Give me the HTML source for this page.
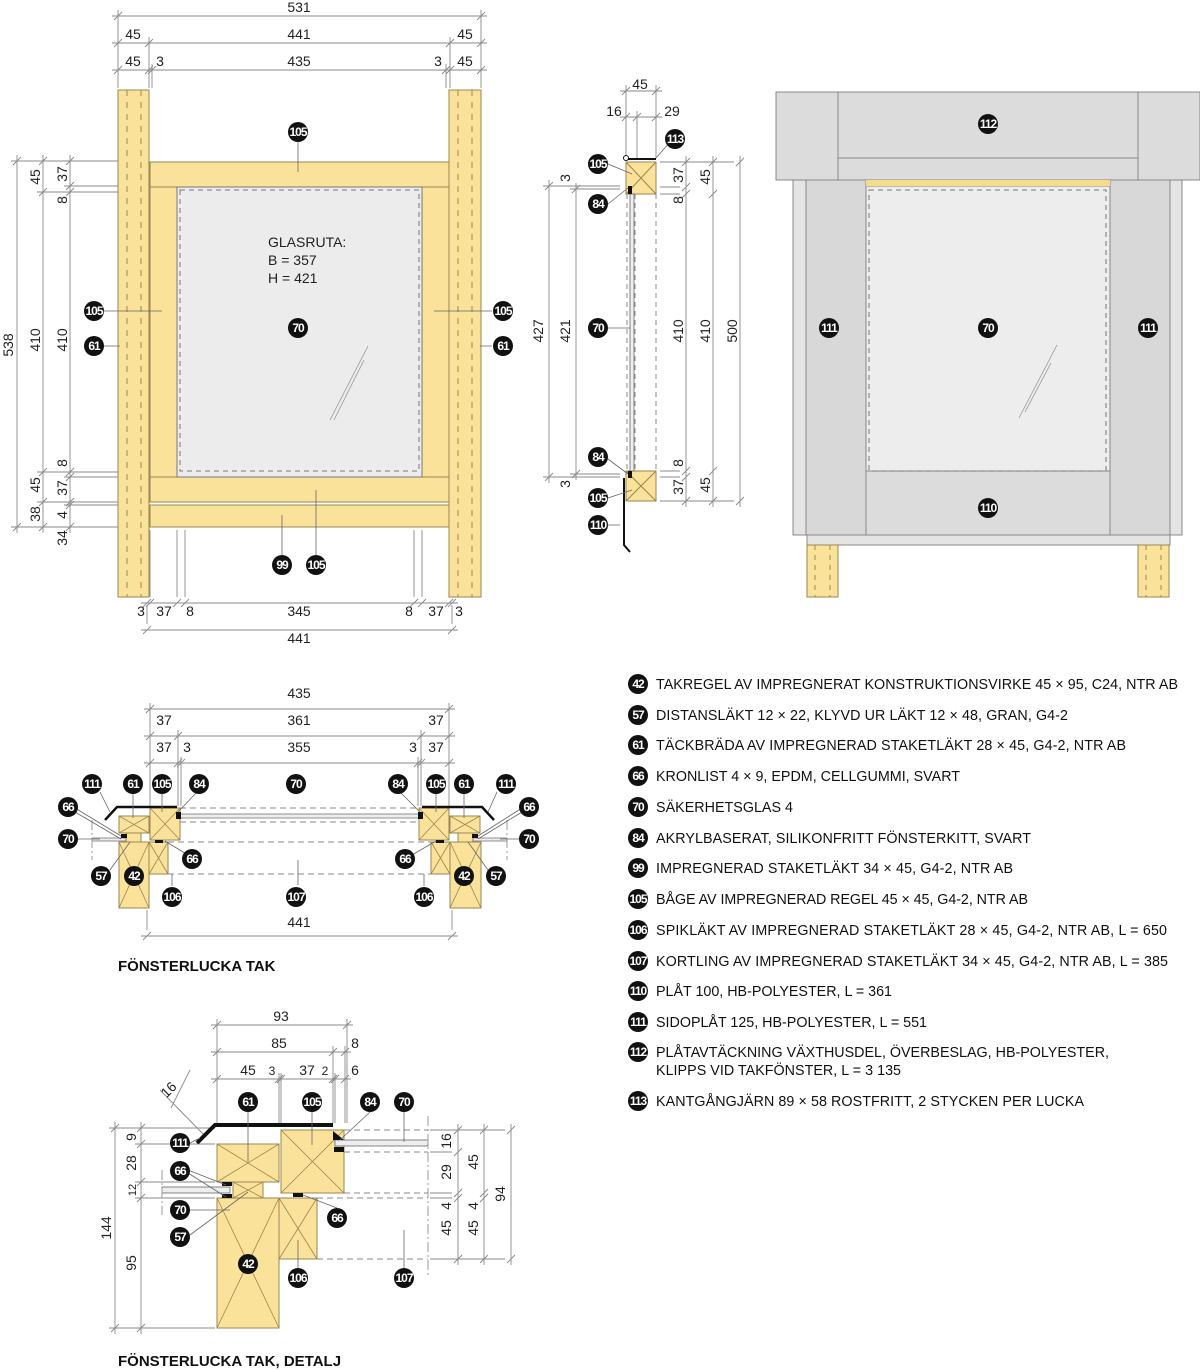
<!DOCTYPE html>
<html><head><meta charset="utf-8">
<style>
html,body{margin:0;padding:0;background:#fff;}
svg{display:block;font-family:"Liberation Sans",sans-serif;}
.d{font-size:14px;fill:#222;}
.b circle{fill:#111;}
.b text{fill:#fff;font-size:12px;font-weight:bold;text-anchor:middle;letter-spacing:-1px;}
.lg{font-size:14.3px;fill:#111;}
.t{font-size:15px;font-weight:bold;fill:#111;}
</style></head><body>
<svg id="s" width="1200" height="1371" viewBox="0 0 1200 1371" xmlns="http://www.w3.org/2000/svg">
<g id="shapes"></g>

<g stroke="#9a8650" stroke-width="1">
<rect x="118" y="90" width="31" height="507" fill="#fbe29b"/>
<rect x="449" y="90" width="32" height="507" fill="#fbe29b"/>
<rect x="150" y="162" width="299" height="340" fill="#fbe29b"/>
<rect x="150" y="505" width="299" height="22" fill="#fbe29b"/>
<line x1="150" y1="187" x2="449" y2="187"/>
<line x1="150" y1="477" x2="449" y2="477"/>
<rect x="177" y="187" width="245" height="290" fill="#ececec" stroke="#777"/>
</g>
<rect x="180" y="190" width="239" height="281" fill="none" stroke="#777" stroke-dasharray="5,4"/>
<g stroke="#9a8650" stroke-dasharray="6,6">
<line x1="127" y1="90" x2="127" y2="597"/><line x1="141" y1="90" x2="141" y2="597"/>
<line x1="458" y1="90" x2="458" y2="597"/><line x1="472" y1="90" x2="472" y2="597"/>
</g>
<g stroke="#999" stroke-width="0.8"><line x1="330" y1="420" x2="368" y2="346"/><line x1="334" y1="420" x2="364" y2="360"/></g>
<text class="d" x="268" y="247">GLASRUTA:</text>
<text class="d" x="268" y="265">B = 357</text>
<text class="d" x="268" y="283">H = 421</text>

<g stroke="#9a8650">
<rect x="626" y="162" width="30" height="32" fill="#fbe29b"/>
<rect x="626" y="471" width="30" height="30" fill="#fbe29b"/>
<path d="M626 162L656 194M656 162L626 194M626 471L656 501M656 471L626 501" fill="none"/>
</g>
<g stroke="#888" stroke-dasharray="5,4"><line x1="627" y1="194" x2="627" y2="471"/><line x1="635" y1="194" x2="635" y2="471"/><line x1="656" y1="194" x2="656" y2="471"/></g>
<rect x="630" y="194" width="4" height="277" fill="#eee" stroke="#666" stroke-width="0.8"/>
<path d="M626 159H656" stroke="#111" stroke-width="2"/>
<circle cx="626" cy="158" r="2.5" fill="#fff" stroke="#111"/>
<path d="M628 186h4v8h-4zM628 471h4v7h-4z" fill="#111"/>
<path d="M624 478V545L630 552" fill="none" stroke="#111" stroke-width="2"/>

<g stroke="#888" stroke-width="1">
<rect x="776" y="92" width="424" height="88" fill="#dcdcdc"/>
<line x1="838" y1="92" x2="838" y2="180"/><line x1="1138" y1="92" x2="1138" y2="180"/>
<line x1="838" y1="158" x2="1138" y2="158"/>
<rect x="793" y="180" width="389" height="355" fill="#e4e4e4"/>
<rect x="806" y="180" width="60" height="355" fill="#d8d8d8"/>
<rect x="1110" y="180" width="60" height="355" fill="#d8d8d8"/>
<rect x="866" y="471" width="244" height="64" fill="#dcdcdc"/>
<rect x="866" y="186" width="244" height="285" fill="#ededed"/>
<rect x="807" y="535" width="363" height="10" fill="#e4e4e4"/>
<rect x="807" y="545" width="31" height="52" fill="#fbe29b" stroke="#9a8650"/>
<rect x="1138" y="545" width="31" height="52" fill="#fbe29b" stroke="#9a8650"/>
</g>
<rect x="866" y="180" width="244" height="6" fill="#f5dc8a"/>
<rect x="869" y="190" width="237" height="281" fill="none" stroke="#777" stroke-dasharray="5,4"/>
<g stroke="#9a8650" stroke-dasharray="5,5"><line x1="815" y1="545" x2="815" y2="597"/><line x1="830" y1="545" x2="830" y2="597"/><line x1="1146" y1="545" x2="1146" y2="597"/><line x1="1161" y1="545" x2="1161" y2="597"/></g>
<g stroke="#999" stroke-width="0.8"><line x1="1019" y1="418" x2="1057" y2="345"/><line x1="1025" y1="412" x2="1051" y2="363"/></g>

<g stroke="#9a8650" fill="#fbe29b">
<rect x="119" y="816" width="30" height="17"/><rect x="126" y="833" width="15" height="9"/>
<rect x="119" y="842" width="30" height="66"/><rect x="150" y="808" width="30" height="32"/>
<rect x="149" y="842" width="19" height="32"/>
<rect x="450" y="816" width="30" height="17"/><rect x="458" y="833" width="15" height="9"/>
<rect x="450" y="842" width="31" height="66"/><rect x="419" y="808" width="30" height="32"/>
<rect x="431" y="842" width="19" height="32"/>
</g>
<g stroke="#9a8650" fill="none" stroke-width="0.8">
<path d="M119 816L149 833M149 816L119 833M119 842L149 908M149 842L119 908M150 808L180 840M180 808L150 840M149 842L168 874M168 842L149 874"/>
<path d="M450 816L480 833M480 816L450 833M450 842L481 908M481 842L450 908M419 808L449 840M449 808L419 840M431 842L450 874M450 842L431 874"/>
</g>
<rect x="180" y="814" width="239" height="4" fill="#eee" stroke="#666" stroke-width="0.7"/>
<rect x="92" y="838" width="34" height="3" fill="#eee" stroke="#666" stroke-width="0.7"/>
<rect x="473" y="838" width="34" height="3" fill="#eee" stroke="#666" stroke-width="0.7"/>
<path d="M105 820L117 807H177M494 820L482 807H422" fill="none" stroke="#111" stroke-width="2.5"/>
<g fill="#111"><rect x="176" y="812" width="5" height="7"/><rect x="418" y="812" width="5" height="7"/><rect x="121" y="834" width="6" height="4"/><rect x="472" y="834" width="6" height="4"/><rect x="155" y="840" width="8" height="3"/><rect x="436" y="840" width="8" height="3"/></g>
<g stroke="#888" stroke-dasharray="6,4" fill="none"><line x1="180" y1="808" x2="419" y2="808"/><line x1="180" y1="822" x2="419" y2="822"/><line x1="168" y1="842" x2="431" y2="842"/><line x1="168" y1="874" x2="431" y2="874"/></g>
<g stroke="#999" stroke-dasharray="10,3,2,3"><line x1="92" y1="820" x2="92" y2="860"/><line x1="507" y1="820" x2="507" y2="860"/></g>
<text class="t" x="118" y="971">FÖNSTERLUCKA TAK</text>

<g stroke="#9a8650" fill="#fbe29b">
<rect x="217" y="1144" width="62" height="38"/><rect x="233" y="1182" width="30" height="16"/>
<rect x="217" y="1198" width="62" height="130"/><rect x="281" y="1130" width="63" height="63"/>
<rect x="279" y="1198" width="38" height="61"/>
</g>
<g stroke="#9a8650" fill="none" stroke-width="0.8">
<path d="M217 1144L279 1182M279 1144L217 1182M233 1182L263 1198M263 1182L233 1198M217 1198L279 1328M279 1198L217 1328M281 1130L344 1193M344 1130L281 1193M279 1198L317 1259M317 1198L279 1259"/>
</g>
<rect x="335" y="1140" width="93" height="6" fill="#eee" stroke="#666" stroke-width="0.8"/>
<rect x="162" y="1187" width="68" height="6" fill="#eee" stroke="#666" stroke-width="0.8"/>
<path d="M197 1143L215 1125H333" fill="none" stroke="#111" stroke-width="4"/>
<g fill="#111"><path d="M333 1131L344 1140H333Z"/><rect x="334" y="1147" width="10" height="5"/><rect x="222" y="1182" width="10" height="4"/><rect x="222" y="1194" width="10" height="4"/><rect x="293" y="1193" width="10" height="4"/></g>
<g stroke="#888" stroke-dasharray="6,4" fill="none"><line x1="344" y1="1130" x2="428" y2="1130"/><line x1="344" y1="1152" x2="428" y2="1152"/><line x1="344" y1="1193" x2="428" y2="1193"/><line x1="317" y1="1198" x2="428" y2="1198"/><line x1="317" y1="1259" x2="428" y2="1259"/></g>
<g stroke="#999" stroke-dasharray="10,3,2,3"><line x1="428" y1="1116" x2="428" y2="1275"/><line x1="162" y1="1170" x2="162" y2="1215"/></g>
<text class="t" x="118" y="1366">FÖNSTERLUCKA TAK, DETALJ</text>

<g class="d" text-anchor="middle">
<text x="299" y="12">531</text>
<text x="299" y="39">441</text><text x="133" y="39">45</text><text x="465" y="39">45</text>
<text x="299" y="66">435</text><text x="133" y="66">45</text><text x="160" y="66">3</text><text x="438" y="66">3</text><text x="465" y="66">45</text>
<text x="141" y="616">3</text><text x="164" y="616">37</text><text x="190" y="616">8</text><text x="299" y="616">345</text><text x="409" y="616">8</text><text x="436" y="616">37</text><text x="459" y="616">3</text>
<text x="299" y="643">441</text>
<text x="640" y="89">45</text><text x="614" y="116">16</text><text x="672" y="116">29</text>
<text x="299" y="698">435</text>
<text x="164" y="725">37</text><text x="299" y="725">361</text><text x="436" y="725">37</text>
<text x="164" y="752">37</text><text x="187" y="752">3</text><text x="299" y="752">355</text><text x="413" y="752">3</text><text x="436" y="752">37</text>
<text x="299" y="927">441</text>
<text x="281" y="1021">93</text><text x="279" y="1048">85</text><text x="355" y="1048">8</text>
<text x="248" y="1075">45</text><text x="272" y="1075" style="font-size:12px">3</text><text x="307" y="1075">37</text><text x="325" y="1075" style="font-size:12px">2</text><text x="355" y="1075">6</text>
</g>
<g class="d" text-anchor="middle">
<text transform="translate(13,345) rotate(-90)">538</text>
<text transform="translate(40,177) rotate(-90)">45</text><text transform="translate(40,340) rotate(-90)">410</text><text transform="translate(40,485) rotate(-90)">45</text><text transform="translate(40,514) rotate(-90)">38</text>
<text transform="translate(67,174) rotate(-90)">37</text><text transform="translate(67,200) rotate(-90)">8</text><text transform="translate(67,340) rotate(-90)">410</text><text transform="translate(67,463) rotate(-90)">8</text><text transform="translate(67,488) rotate(-90)">37</text><text transform="translate(67,515) rotate(-90)">4</text><text transform="translate(67,538) rotate(-90)">34</text>
<text transform="translate(543,331) rotate(-90)">427</text><text transform="translate(570,331) rotate(-90)">421</text><text transform="translate(570,178) rotate(-90)">3</text><text transform="translate(570,484) rotate(-90)">3</text>
<text transform="translate(683,175) rotate(-90)">37</text><text transform="translate(683,200) rotate(-90)">8</text><text transform="translate(683,331) rotate(-90)">410</text><text transform="translate(683,463) rotate(-90)">8</text><text transform="translate(683,487) rotate(-90)">37</text>
<text transform="translate(710,177) rotate(-90)">45</text><text transform="translate(710,331) rotate(-90)">410</text><text transform="translate(710,485) rotate(-90)">45</text>
<text transform="translate(737,331) rotate(-90)">500</text>
<text transform="translate(111,1228) rotate(-90)">144</text>
<text transform="translate(136,1137) rotate(-90)">9</text><text transform="translate(136,1163) rotate(-90)">28</text><text transform="translate(136,1190) rotate(-90)" style="font-size:11px">12</text><text transform="translate(136,1263) rotate(-90)">95</text>
<text transform="translate(451,1141) rotate(-90)">16</text><text transform="translate(451,1172) rotate(-90)">29</text><text transform="translate(451,1206) rotate(-90)">4</text><text transform="translate(451,1228) rotate(-90)">45</text>
<text transform="translate(478,1162) rotate(-90)">45</text><text transform="translate(478,1206) rotate(-90)">4</text><text transform="translate(478,1228) rotate(-90)">45</text>
<text transform="translate(505,1194) rotate(-90)">94</text>
<text transform="translate(172,1093) rotate(-45)">16</text>
</g>

<g stroke="#666" stroke-width="0.8" fill="none">
<path d="M298 142V172M104 311H162M492 311H434M104 346H120M492 346H480M282 555V515M316 555V490"/>
<path d="M608 164L632 174M608 204L628 188M608 459L628 474M608 498L632 490M608 525H620M608 328H630M670 142L656 158"/>
<path d="M100 792L110 812M133 794V818M162 794V812M197 792L178 812M400 792L420 812M436 794V812M464 794V818M497 792L488 812"/>
<path d="M75 808L121 836M75 812L121 839M78 839H100M110 870L130 842M188 855L165 841M522 808L478 836M522 812L478 839M520 839H500M488 870L468 842M412 855L436 841M298 885V860M172 886V874M424 886V874"/>
<path d="M190 1143L200 1138M188 1170L226 1185M188 1173L226 1197M190 1210H230M190 1235L248 1192M248 1112V1162M312 1112V1145M370 1112L340 1140M404 1112V1142M337 1208L303 1195M298 1268V1240M404 1268V1230"/>
</g>

<g class="b">
<g transform="translate(298,132)"><circle r="10"/><text y="4">105</text></g>
<g transform="translate(94,311)"><circle r="10"/><text y="4">105</text></g>
<g transform="translate(503,311)"><circle r="10"/><text y="4">105</text></g>
<g transform="translate(94,346)"><circle r="10"/><text y="4">61</text></g>
<g transform="translate(503,346)"><circle r="10"/><text y="4">61</text></g>
<g transform="translate(298,328)"><circle r="10"/><text y="4">70</text></g>
<g transform="translate(282,565)"><circle r="10"/><text y="4">99</text></g>
<g transform="translate(316,565)"><circle r="10"/><text y="4">105</text></g>
<g transform="translate(598,164)"><circle r="10"/><text y="4">105</text></g>
<g transform="translate(598,204)"><circle r="10"/><text y="4">84</text></g>
<g transform="translate(675,139)"><circle r="10"/><text y="4">113</text></g>
<g transform="translate(598,328)"><circle r="10"/><text y="4">70</text></g>
<g transform="translate(598,457)"><circle r="10"/><text y="4">84</text></g>
<g transform="translate(598,498)"><circle r="10"/><text y="4">105</text></g>
<g transform="translate(598,525)"><circle r="10"/><text y="4">110</text></g>
<g transform="translate(988,124)"><circle r="10"/><text y="4">112</text></g>
<g transform="translate(829,328)"><circle r="10"/><text y="4">111</text></g>
<g transform="translate(988,328)"><circle r="10"/><text y="4">70</text></g>
<g transform="translate(1148,328)"><circle r="10"/><text y="4">111</text></g>
<g transform="translate(988,508)"><circle r="10"/><text y="4">110</text></g>
<g transform="translate(92,784)"><circle r="10"/><text y="4">111</text></g>
<g transform="translate(133,784)"><circle r="10"/><text y="4">61</text></g>
<g transform="translate(162,784)"><circle r="10"/><text y="4">105</text></g>
<g transform="translate(199,784)"><circle r="10"/><text y="4">84</text></g>
<g transform="translate(296,784)"><circle r="10"/><text y="4">70</text></g>
<g transform="translate(398,784)"><circle r="10"/><text y="4">84</text></g>
<g transform="translate(436,784)"><circle r="10"/><text y="4">105</text></g>
<g transform="translate(464,784)"><circle r="10"/><text y="4">61</text></g>
<g transform="translate(506,784)"><circle r="10"/><text y="4">111</text></g>
<g transform="translate(68,807)"><circle r="10"/><text y="4">66</text></g>
<g transform="translate(529,807)"><circle r="10"/><text y="4">66</text></g>
<g transform="translate(68,839)"><circle r="10"/><text y="4">70</text></g>
<g transform="translate(529,839)"><circle r="10"/><text y="4">70</text></g>
<g transform="translate(192,859)"><circle r="10"/><text y="4">66</text></g>
<g transform="translate(405,859)"><circle r="10"/><text y="4">66</text></g>
<g transform="translate(101,876)"><circle r="10"/><text y="4">57</text></g>
<g transform="translate(134,876)"><circle r="10"/><text y="4">42</text></g>
<g transform="translate(464,876)"><circle r="10"/><text y="4">42</text></g>
<g transform="translate(496,876)"><circle r="10"/><text y="4">57</text></g>
<g transform="translate(172,897)"><circle r="10"/><text y="4">106</text></g>
<g transform="translate(296,897)"><circle r="10"/><text y="4">107</text></g>
<g transform="translate(424,897)"><circle r="10"/><text y="4">106</text></g>
<g transform="translate(248,1102)"><circle r="10"/><text y="4">61</text></g>
<g transform="translate(312,1102)"><circle r="10"/><text y="4">105</text></g>
<g transform="translate(370,1102)"><circle r="10"/><text y="4">84</text></g>
<g transform="translate(404,1102)"><circle r="10"/><text y="4">70</text></g>
<g transform="translate(180,1143)"><circle r="10"/><text y="4">111</text></g>
<g transform="translate(180,1171)"><circle r="10"/><text y="4">66</text></g>
<g transform="translate(180,1210)"><circle r="10"/><text y="4">70</text></g>
<g transform="translate(180,1237)"><circle r="10"/><text y="4">57</text></g>
<g transform="translate(337,1218)"><circle r="10"/><text y="4">66</text></g>
<g transform="translate(248,1264)"><circle r="10"/><text y="4">42</text></g>
<g transform="translate(298,1278)"><circle r="10"/><text y="4">106</text></g>
<g transform="translate(404,1278)"><circle r="10"/><text y="4">107</text></g>
</g>

<g class="b">
<g transform="translate(638,684)"><circle r="10"/><text y="4">42</text></g>
<g transform="translate(638,715)"><circle r="10"/><text y="4">57</text></g>
<g transform="translate(638,745)"><circle r="10"/><text y="4">61</text></g>
<g transform="translate(638,776)"><circle r="10"/><text y="4">66</text></g>
<g transform="translate(638,807)"><circle r="10"/><text y="4">70</text></g>
<g transform="translate(638,838)"><circle r="10"/><text y="4">84</text></g>
<g transform="translate(638,868)"><circle r="10"/><text y="4">99</text></g>
<g transform="translate(638,899)"><circle r="10"/><text y="4">105</text></g>
<g transform="translate(638,930)"><circle r="10"/><text y="4">106</text></g>
<g transform="translate(638,961)"><circle r="10"/><text y="4">107</text></g>
<g transform="translate(638,991)"><circle r="10"/><text y="4">110</text></g>
<g transform="translate(638,1022)"><circle r="10"/><text y="4">111</text></g>
<g transform="translate(638,1052)"><circle r="10"/><text y="4">112</text></g>
<g transform="translate(638,1101)"><circle r="10"/><text y="4">113</text></g>
</g>
<g class="lg">
<text x="656" y="689" textLength="522">TAKREGEL AV IMPREGNERAT KONSTRUKTIONSVIRKE 45 × 95, C24, NTR AB</text>
<text x="656" y="720" textLength="412">DISTANSLÄKT 12 × 22, KLYVD UR LÄKT 12 × 48, GRAN, G4-2</text>
<text x="656" y="750" textLength="470">TÄCKBRÄDA AV IMPREGNERAD STAKETLÄKT 28 × 45, G4-2, NTR AB</text>
<text x="656" y="781" textLength="304">KRONLIST 4 × 9, EPDM, CELLGUMMI, SVART</text>
<text x="656" y="812" textLength="137">SÄKERHETSGLAS 4</text>
<text x="656" y="843" textLength="375">AKRYLBASERAT, SILIKONFRITT FÖNSTERKITT, SVART</text>
<text x="656" y="873" textLength="357">IMPREGNERAD STAKETLÄKT 34 × 45, G4-2, NTR AB</text>
<text x="656" y="904" textLength="372">BÅGE AV IMPREGNERAD REGEL 45 × 45, G4-2, NTR AB</text>
<text x="656" y="935" textLength="511">SPIKLÄKT AV IMPREGNERAD STAKETLÄKT 28 × 45, G4-2, NTR AB, L = 650</text>
<text x="656" y="966" textLength="512">KORTLING AV IMPREGNERAD STAKETLÄKT 34 × 45, G4-2, NTR AB, L = 385</text>
<text x="656" y="996" textLength="236">PLÅT 100, HB-POLYESTER, L = 361</text>
<text x="656" y="1027" textLength="271">SIDOPLÅT 125, HB-POLYESTER, L = 551</text>
<text x="656" y="1057" textLength="453">PLÅTAVTÄCKNING VÄXTHUSDEL, ÖVERBESLAG, HB-POLYESTER,</text>
<text x="656" y="1075" textLength="245">KLIPPS VID TAKFÖNSTER, L = 3 135</text>
<text x="656" y="1106" textLength="428">KANTGÅNGJÄRN 89 × 58 ROSTFRITT, 2 STYCKEN PER LUCKA</text>
</g>
</svg>
<script>
(function(){
var g=document.getElementById('shapes'),NS='http://www.w3.org/2000/svg',d='';
function H(y,xs,ey){var a=xs[0],b=xs[xs.length-1];d+='M'+(a-6)+' '+y+'H'+(b+6);
 xs.forEach(function(x){d+='M'+(x-4)+' '+(y+4)+'L'+(x+4)+' '+(y-4);if(ey!==undefined)d+='M'+x+' '+(y-6)+'V'+ey;});}
function V(x,ys,ex){var a=ys[0],b=ys[ys.length-1];d+='M'+x+' '+(a-6)+'V'+(b+6);
 ys.forEach(function(y){d+='M'+(x-4)+' '+(y+4)+'L'+(x+4)+' '+(y-4);if(ex!==undefined)d+='M'+(x-6)+' '+y+'H'+ex;});}
H(16,[118,481],88);H(43,[118,149,450,481],88);H(70,[118,149,152,446,450,481],88);
H(603,[147,150,177,185,414,422,449,452],530);H(630,[147,452],605);
V(17,[161,527],118);V(43,[161,192,472,502,527],118);V(70,[161,186,192,472,477,502,505,527],118);
H(91,[626,656],158);H(117,[626,637,656],158);
V(549,[186,477],620);V(576,[189,474],620);V(686,[162,187,194,471,477,501],660);V(713,[162,194,471,501]);V(740,[162,501],660);
H(709,[150,449],806);H(736,[150,178,421,449],806);H(763,[150,178,181,418,421,449],806);H(936,[147,452],910);
H(1025,[217,347],1123);H(1052,[217,333,345],1123);H(1079,[217,279,281,333,335,345],1123);
V(115,[1128,1328],215);V(141,[1128,1144,1182,1198,1328],215);
V(458,[1130,1152,1193,1198,1259],430);V(484,[1130,1193,1198,1259]);V(511,[1130,1259],430);
d+='M160 1090L206 1137M190 1070L171 1108';
var p=document.createElementNS(NS,'path');p.setAttribute('d',d);p.setAttribute('stroke','#8a8a8a');p.setAttribute('stroke-width','0.9');p.setAttribute('fill','none');g.appendChild(p);
})();
</script>
</body></html>
